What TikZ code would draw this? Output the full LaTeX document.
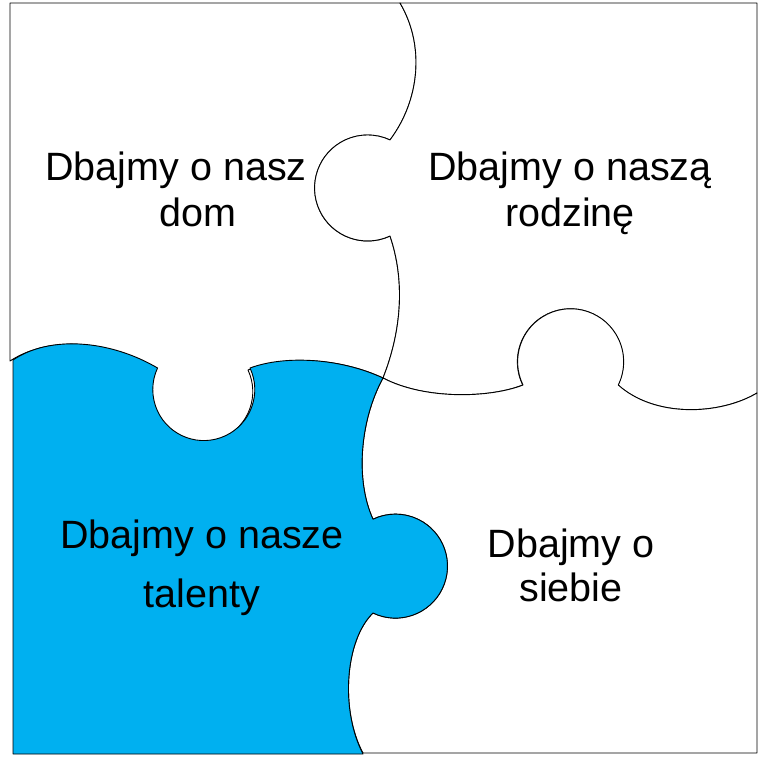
\documentclass[tikz,border=0pt]{standalone}
\usepackage{fontspec}
\setmainfont{Liberation Sans}
\definecolor{pblue}{HTML}{00B0F0}
\begin{document}
\begin{tikzpicture}[x=1pt,y=-1pt,
  piece/.style={draw=black,line width=0.9pt,line join=round},
  lbl/.style={anchor=base,inner sep=0pt,font=\fontsize{39.5}{47}\selectfont}]
\useasboundingbox (0,0) rectangle (760,757);
% top-left piece
\path[piece,fill=white] (10,3) -- (400,3)
  .. controls (425,45) and (420,100) .. (390,140)
  arc[start angle=-65,end angle=-295,radius=53]
  .. controls (405,280) and (402,330) .. (383,378)
  .. controls (340,358) and (285,355) .. (248,370)
  arc[start angle=-25,end angle=205,radius=51]
  .. controls (110,340) and (50,335) .. (10,361) -- cycle;
% top-right piece
\path[piece,fill=white] (400,3) -- (757,3) -- (757,393)
  .. controls (720,415) and (655,418) .. (618,385)
  arc[start angle=26,end angle=-206,radius=53]
  .. controls (490,398) and (425,400) .. (383,378)
  .. controls (402,330) and (405,280) .. (390,236)
  arc[start angle=65,end angle=295,radius=53]
  .. controls (420,100) and (425,45) .. (400,3) -- cycle;
% bottom-right piece
\path[piece,fill=white] (757,393) -- (757,753) -- (363,753)
  .. controls (340,710) and (345,640) .. (373,613)
  arc[start angle=115.6,end angle=-115.6,radius=52]
  .. controls (355,480) and (360,420) .. (383,378)
  .. controls (425,400) and (490,398) .. (523,385)
  arc[start angle=-206,end angle=26,radius=53]
  .. controls (655,418) and (720,415) .. (757,393) -- cycle;
% bottom-left piece (blue)
\path[piece,fill=pblue] (13,360) -- (13,754) -- (363,754)
  .. controls (340,710) and (345,640) .. (373,613)
  arc[start angle=115.6,end angle=-115.6,radius=52]
  .. controls (355,480) and (360,420) .. (383,378)
  .. controls (340,358) and (285,355) .. (250,368)
  arc[start angle=-25,end angle=205,radius=51]
  .. controls (110,340) and (50,335) .. (13,360) -- cycle;
% labels
\node[lbl] (a1) at (176,180) {Dbajmy o nasz};
\node[lbl] (a2) at (198,226) {dom};
\node[lbl] (b1) at (570,180) {Dbajmy o naszą};
\node[lbl] (b2) at (570,226) {rodzinę};
\node[lbl] (c1) at (202,548) {Dbajmy o nasze};
\node[lbl] (c2) at (202,607) {talenty};
\node[lbl] (d1) at (571,557) {Dbajmy o};
\node[lbl] (d2) at (571,601) {siebie};
\end{tikzpicture}
\end{document}
